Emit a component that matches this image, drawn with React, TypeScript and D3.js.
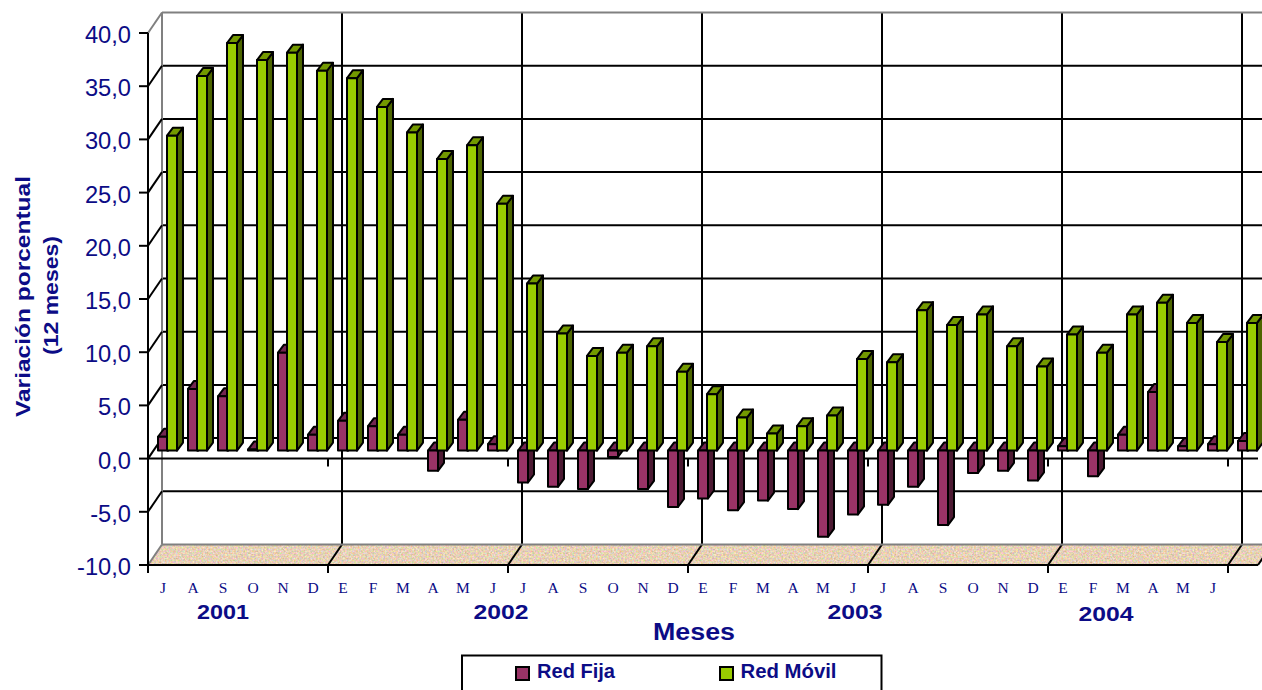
import React from "react";
import * as d3 from "d3";

const months = ["J","A","S","O","N","D","E","F","M","A","M","J","J","A","S","O","N","D","E","F","M","A","M","J","J","A","S","O","N","D","E","F","M","A","M","J",""];
const redFija = [1.3,5.8,5.1,0.1,9.2,1.5,2.8,2.3,1.5,-1.9,2.9,0.6,-3.0,-3.4,-3.6,-0.6,-3.6,-5.3,-4.5,-5.6,-4.7,-5.5,-8.1,-6.0,-5.1,-3.4,-7.0,-2.1,-1.9,-2.8,0.4,-2.4,1.5,5.5,0.4,0.6,0.9];
const redMovil = [29.6,35.2,38.3,36.7,37.4,35.7,35.0,32.3,29.9,27.4,28.7,23.2,15.7,11.0,8.9,9.2,9.8,7.4,5.3,3.1,1.6,2.3,3.3,8.6,8.3,13.2,11.8,12.8,9.8,7.9,10.9,9.2,12.8,13.9,12.0,10.2,12.0];
const yTicks = [40,35,30,25,20,15,10,5,0,-5,-10];
const separators = [6,12,18,24,30,36];
const years = [
  { label: "2001", x: 223, y: 619, len: 52 },
  { label: "2002", x: 501, y: 619, len: 55 },
  { label: "2003", x: 855, y: 619, len: 55 },
  { label: "2004", x: 1106, y: 621, len: 55 },
];

const NAVY = "#0c0c86";
const SANS = "'Liberation Sans', Arial, sans-serif";
const SERIF = "'Liberation Serif', 'Times New Roman', serif";
const GRAY = "#808080";
const WALL_DX = 14;
const WALL_DY = -20.5;
const BAR_DX = 6;
const BAR_DY = -8;
const BASE_SHIFT = -8;
const LINE = 2;

const x = d3.scaleBand<number>().domain(d3.range(months.length)).range([148, 1258]);
const y = d3.scaleLinear().domain([-10, 40]).range([565, 33]);

const poly = (pts: number[][]) => pts.map((p) => p.join(",")).join(" ");

function Bar3D({ x0, w, value, front, side, top }: { x0: number; w: number; value: number; front: string; side: string; top: string }) {
  const base = y(0) + BASE_SHIFT;
  const end = y(value) + BASE_SHIFT;
  const t = Math.min(base, end);
  const b = Math.max(base, end);
  const r = x0 + w;
  return (
    <g stroke="#000" strokeWidth={LINE} strokeLinejoin="round">
      <polygon points={poly([[r, t], [r + BAR_DX, t + BAR_DY], [r + BAR_DX, b + BAR_DY], [r, b]])} fill={side} />
      <polygon points={poly([[x0, t], [x0 + BAR_DX, t + BAR_DY], [r + BAR_DX, t + BAR_DY], [r, t]])} fill={top} />
      <rect x={x0} y={t} width={w} height={b - t} fill={front} />
    </g>
  );
}

export default function App() {
  const bw = x.bandwidth();
  const right = x.range()[1];
  const yBottom = y(-10);
  const yTop = y(40);
  return (
    <svg width={1262} height={690} viewBox="0 0 1262 690" style={{ position: "absolute", left: 0, top: 0, display: "block", background: "#fff" }}>
      <defs>
        <filter id="floorTex" x="0" y="0" width="100%" height="100%" colorInterpolationFilters="sRGB">
          <feTurbulence type="fractalNoise" baseFrequency="0.55" numOctaves={2} seed={4} result="n" />
          <feColorMatrix in="n" type="matrix" values="0.45 0 0 0 0.68  0 0.4 0 0 0.62  0 0 0.55 0 0.44  0 0 0 0 1" result="c" />
          <feComposite in="c" in2="SourceGraphic" operator="in" />
        </filter>
      </defs>

      {/* floor */}
      <polygon
        points={poly([[148, yBottom], [148 + WALL_DX, yBottom + WALL_DY], [right + WALL_DX, yBottom + WALL_DY], [right, yBottom]])}
        fill="#e0cbab"
        filter="url(#floorTex)"
      />

      {/* back wall grid */}
      {yTicks.filter((t) => t !== 40 && t !== -10).map((t) => (
        <line key={t} x1={148 + WALL_DX} x2={right + WALL_DX} y1={y(t) + WALL_DY} y2={y(t) + WALL_DY} stroke="#000" strokeWidth={LINE} />
      ))}
      {separators.map((i) => {
        const px = x(i)!;
        return (
          <g key={i} stroke="#000" strokeWidth={LINE}>
            <line x1={px + WALL_DX} x2={px + WALL_DX} y1={yTop + WALL_DY} y2={yBottom + WALL_DY} />
            <line x1={px} x2={px + WALL_DX} y1={yBottom} y2={yBottom + WALL_DY} />
            <line x1={px} x2={px} y1={yBottom} y2={yBottom + 8} />
            <line x1={px} x2={px} y1={y(0)} y2={y(0) + 8} />
          </g>
        );
      })}
      <line x1={162} x2={1272} y1={yTop + WALL_DY} y2={yTop + WALL_DY} stroke={GRAY} strokeWidth={LINE} />
      <line x1={162} x2={1272} y1={yBottom + WALL_DY} y2={yBottom + WALL_DY} stroke={GRAY} strokeWidth={LINE} />
      <line x1={162} x2={162} y1={yTop + WALL_DY} y2={yBottom + WALL_DY} stroke={GRAY} strokeWidth={LINE} />
      <line x1={148} x2={162} y1={yTop} y2={yTop + WALL_DY} stroke={GRAY} strokeWidth={LINE} />
      <line x1={148} x2={162} y1={yBottom} y2={yBottom + WALL_DY} stroke={GRAY} strokeWidth={LINE} />
      <line x1={right} x2={right + WALL_DX} y1={yBottom} y2={yBottom + WALL_DY} stroke="#000" strokeWidth={LINE} />

      {/* front axes */}
      <line x1={148} x2={right} y1={y(0)} y2={y(0)} stroke="#000" strokeWidth={LINE} />
      <line x1={148} x2={right} y1={yBottom} y2={yBottom} stroke="#000" strokeWidth={LINE} />
      <line x1={148} x2={148} y1={yTop} y2={yBottom + 8} stroke="#000" strokeWidth={LINE} />
      {yTicks.map((t) => (
        <g key={t} stroke="#000" strokeWidth={LINE}>
          <line x1={139} x2={148} y1={y(t)} y2={y(t)} />
          {t !== 40 && t !== -10 && <line x1={148} x2={148 + WALL_DX} y1={y(t)} y2={y(t) + WALL_DY} />}
        </g>
      ))}

      {/* bars */}
      {months.map((_, i) => (
        <g key={i}>
          <Bar3D x0={x(i)! + 10} w={10} value={redFija[i]} front="#993366" side="#4d1a33" top="#732650" />
          <Bar3D x0={x(i)! + 19} w={10} value={redMovil[i]} front="#99cc00" side="#4d6600" top="#739900" />
        </g>
      ))}

      {/* y tick labels */}
      {yTicks.map((t) => (
        <text
          key={t}
          transform={`translate(131,${y(t) + 10}) scale(1.03,1)`}
          textAnchor="end"
          fontFamily={SANS}
          fontSize={23}
          fill={NAVY}
        >
          {d3.format(".1f")(t).replace(".", ",").replace("−", "-")}
        </text>
      ))}

      {/* month labels */}
      {months.map((m, i) => (
        <text key={i} x={x(i)! + bw / 2} y={593} textAnchor="middle" fontFamily={SERIF} fontSize={15.5} fill={NAVY}>
          {m}
        </text>
      ))}

      {/* year labels */}
      {years.map((d) => (
        <text key={d.label} x={d.x - d.len / 2} y={d.y} textLength={d.len} lengthAdjust="spacingAndGlyphs" fontFamily={SANS} fontWeight="bold" fontSize={19.5} fill={NAVY}>
          {d.label}
        </text>
      ))}

      {/* titles */}
      <text x={653} y={640} textLength={82} lengthAdjust="spacingAndGlyphs" fontFamily={SANS} fontWeight="bold" fontSize={23} fill={NAVY}>Meses</text>
      <text transform="translate(30,417) rotate(-90)" textLength={241} lengthAdjust="spacingAndGlyphs" fontFamily={SANS} fontWeight="bold" fontSize={20} fill={NAVY}>Variación porcentual</text>
      <text transform="translate(58,355) rotate(-90)" textLength={119} lengthAdjust="spacingAndGlyphs" fontFamily={SANS} fontWeight="bold" fontSize={20} fill={NAVY}>(12 meses)</text>

      {/* legend */}
      <path d="M462,700 V655.5 H881.5 V700" fill="#fff" stroke="#000" strokeWidth={2} />
      <rect x={516} y={667} width={13} height={13} fill="#993366" stroke="#000" strokeWidth={2} />
      <text x={537} y={678} textLength={78} lengthAdjust="spacingAndGlyphs" fontFamily={SANS} fontWeight="bold" fontSize={20} fill={NAVY}>Red Fija</text>
      <rect x={720} y={667} width={13} height={13} fill="#99cc00" stroke="#000" strokeWidth={2} />
      <text x={740.5} y={678} textLength={96} lengthAdjust="spacingAndGlyphs" fontFamily={SANS} fontWeight="bold" fontSize={20} fill={NAVY}>Red Móvil</text>
    </svg>
  );
}
